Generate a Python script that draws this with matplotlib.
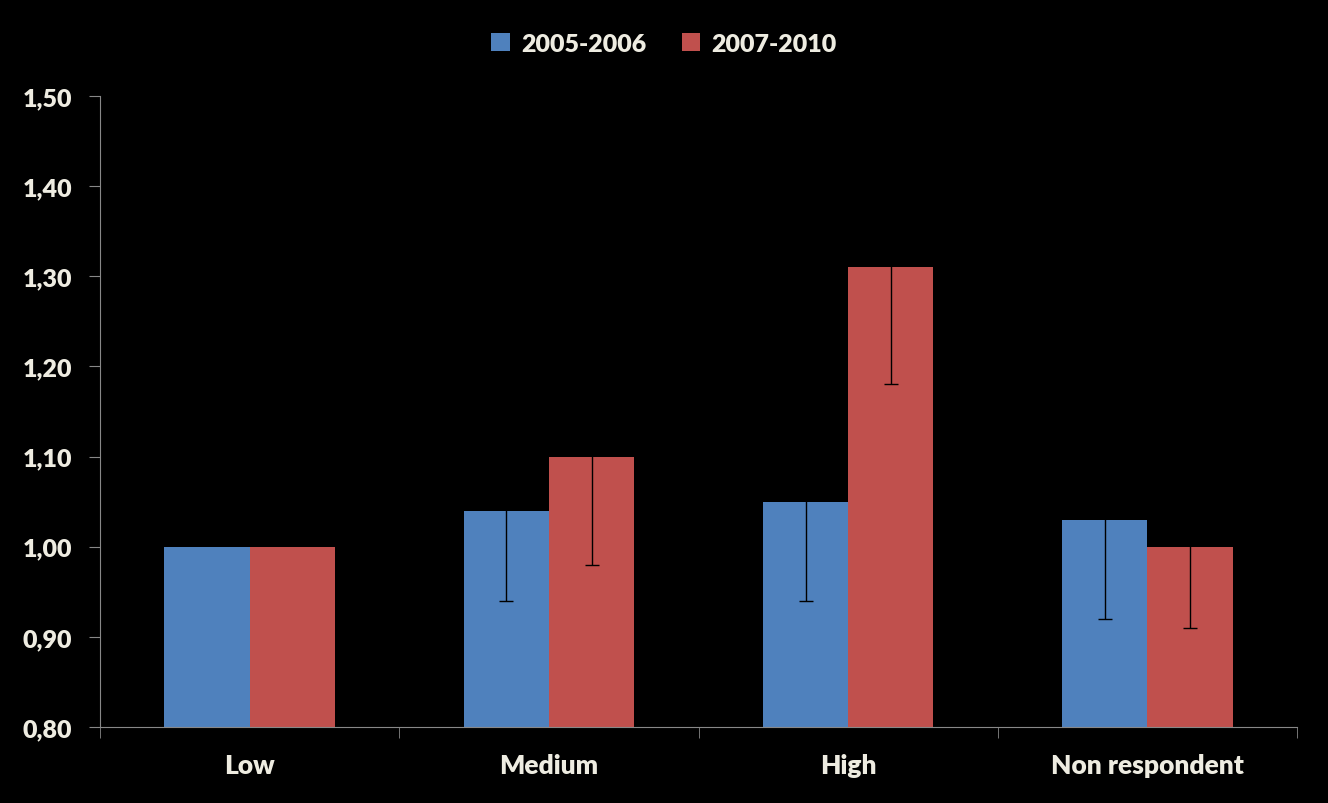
import numpy as np
import matplotlib.pyplot as plt

categories = ["Low", "Medium", "High", "Non respondent"]
series_names = ["2005-2006", "2007-2010"]
vals_0506 = [1.00, 1.04, 1.05, 1.03]
vals_0710 = [1.00, 1.10, 1.31, 1.00]
err_0506 = [0.0, 0.10, 0.11, 0.11]
err_0710 = [0.0, 0.12, 0.13, 0.09]
yticks = [0.80, 0.90, 1.00, 1.10, 1.20, 1.30, 1.40, 1.50]

txt = "#EEECE1"
blue = "#4F81BD"
red = "#C0504D"
plt.rcParams['font.family'] = ['Lato', 'DejaVu Sans']
plt.rcParams['font.weight'] = 'heavy'

fig = plt.figure(figsize=(13.28, 8.04), dpi=100, facecolor="black")
ax = fig.add_axes([0.0753, 0.0945, 0.9014, 0.7849], facecolor="black")

x = np.arange(len(categories))
w = 0.285
ax.bar(x - w / 2, vals_0506, w, color=blue, label=series_names[0])
ax.bar(x + w / 2, vals_0710, w, color=red, label=series_names[1])

# error bars only where there is an interval
for offs, vals, errs in [(-w / 2, vals_0506, err_0506), (w / 2, vals_0710, err_0710)]:
    idx = [i for i, e in enumerate(errs) if e > 0]
    ax.errorbar(x[idx] + offs, np.array(vals)[idx], yerr=np.array(errs)[idx],
                fmt="none", ecolor="black", elinewidth=1, capsize=5, capthick=1)

ax.set_xlim(-0.5, len(categories) - 0.5)
ax.set_ylim(0.8, 1.5)
ax.set_yticks(yticks)
ax.set_yticklabels([f"{v:.2f}".replace(".", ",") for v in yticks])
ax.set_xticks(x)
ax.set_xticklabels(categories)
ax.set_xticks(np.arange(len(categories) + 1) - 0.5, minor=True)
ax.tick_params(axis="x", which="major", length=0, pad=19, labelsize=19, colors=txt)
ax.tick_params(axis="x", which="minor", length=8, color="#888888", direction="out")
ax.tick_params(axis="y", length=8, color="#888888", labelsize=18, colors=txt, pad=12)

for s in ["top", "right"]:
    ax.spines[s].set_visible(False)
for s in ["left", "bottom"]:
    ax.spines[s].set_color("#888888")

leg = fig.legend(loc="center", bbox_to_anchor=(0.5, 0.944), ncol=2, frameon=False,
                 fontsize=18, handlelength=0.75, handleheight=0.75, columnspacing=1.4,
                 handletextpad=0.45)
for t in leg.get_texts():
    t.set_color(txt)

fig.savefig("out.png", dpi=100, facecolor="black")
